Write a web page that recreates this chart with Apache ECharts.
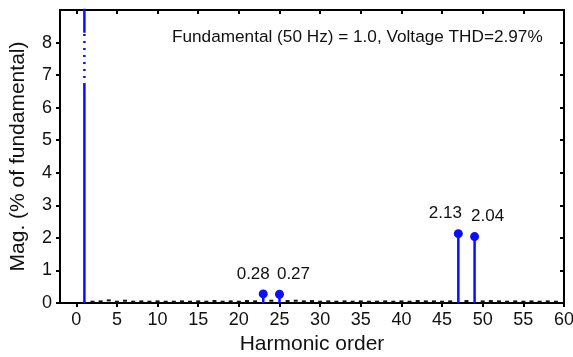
<!DOCTYPE html>
<html>
<head>
<meta charset="utf-8">
<script src="https://cdn.jsdelivr.net/npm/echarts@6/dist/echarts.min.js"></script>
<style>html,body{margin:0;padding:0;background:#fff}#c{width:573px;height:357px}</style>
</head>
<body>
<div id="c"></div>
<script>
// ---- data ----
var xTicks = [0, 5, 10, 15, 20, 25, 30, 35, 40, 45, 50, 55, 60];
var yTicks = [0, 1, 2, 3, 4, 5, 6, 7, 8];
var fundamentalOrder = 1;
var fundamentalValue = 100;      // % of fundamental
var breakLow = 6.7;              // axis-break segment (dotted)
var breakHigh = 8.3;
var mainOrders = [23, 25, 47, 49];
var mainValues = [0.28, 0.27, 2.13, 2.04];
var minorOrders = [2,3,4,5,6,7,8,9,10,11,12,13,14,15,16,17,18,19,20,21,22,24,26,27,28,29,30,31,32,33,34,35,36,37,38,39,40,41,42,43,44,45,46,48,50,51,52,53,54,55,56,57,58,59];
var minorValues = [0.04,0.05,0.08,0.04,0.07,0.04,0.05,0.04,0.05,0.04,0.04,0.05,0.04,0.05,0.04,0.06,0.04,0.05,0.04,0.06,0.05,0.07,0.06,0.07,0.05,0.06,0.04,0.05,0.04,0.05,0.04,0.05,0.04,0.04,0.05,0.04,0.05,0.04,0.06,0.05,0.05,0.04,0.05,0.06,0.05,0.06,0.05,0.04,0.05,0.04,0.05,0.04,0.05,0.04];
var annotation = 'Fundamental (50 Hz) = 1.0, Voltage THD=2.97%';

var BLUE = '#0c0cff';
var FONT = '"Liberation Sans", Arial, sans-serif';
var chart = echarts.init(document.getElementById('c'), null, {renderer: 'canvas'});

var mainData = mainOrders.map(function (o, i) { return [o, mainValues[i]]; });
var minorData = minorOrders.map(function (o, i) { return [o, minorValues[i]]; });
var labelOffsets = [[-10, 0], [14, 0], [-13, 0], [13, 0]];

function xAxisBase(extra) {
  var a = {
    type: 'value', min: -2, max: 60, gridIndex: 0,
    splitLine: {show: false},
    axisLine: {show: true, onZero: false, lineStyle: {color: '#000', width: 2}},
    axisTick: {show: true, length: 4, customValues: xTicks, lineStyle: {color: '#000', width: 2}},
    axisLabel: {show: false}
  };
  for (var k in extra) a[k] = extra[k];
  return a;
}
function yAxisBase(extra) {
  var a = {
    type: 'value', min: 0, max: 9, gridIndex: 0,
    splitLine: {show: false},
    axisLine: {show: true, onZero: false, lineStyle: {color: '#000', width: 2}},
    axisTick: {show: true, length: 4, customValues: yTicks, lineStyle: {color: '#000', width: 2}},
    axisLabel: {show: false}
  };
  for (var k in extra) a[k] = extra[k];
  return a;
}

var option = {
  backgroundColor: '#fff',
  animation: false,
  grid: {left: 60, right: 9, top: 10, bottom: 54, show: true, borderColor: '#000', borderWidth: 2,
         containLabel: false, outerBoundsMode: 'none'},
  xAxis: [
    xAxisBase({
      name: 'Harmonic order', nameLocation: 'middle', nameGap: 30,
      nameTextStyle: {fontFamily: FONT, fontSize: 21, color: '#111'},
      axisLabel: {show: true, customValues: xTicks, margin: 8, fontFamily: FONT, fontSize: 18, color: '#111'}
    }),
    xAxisBase({axisTick: {show: true, inside: true, length: 4, customValues: xTicks, lineStyle: {color: '#000', width: 2}}})
  ],
  yAxis: [
    yAxisBase({
      name: 'Mag. (% of fundamental)', nameLocation: 'middle', nameGap: 31,
      nameTextStyle: {fontFamily: FONT, fontSize: 21, color: '#111'},
      axisLabel: {show: true, customValues: yTicks, margin: 8, fontFamily: FONT, fontSize: 18, color: '#111'}
    }),
    yAxisBase({axisTick: {show: true, inside: true, length: 4, customValues: yTicks, lineStyle: {color: '#000', width: 2}}})
  ],
  graphic: [{
    type: 'text', left: 172, top: 29,
    style: {text: annotation, font: '17.2px ' + FONT, fill: '#111'}
  }],
  series: [
    {
      type: 'scatter', xAxisIndex: 0, yAxisIndex: 0, data: minorData,
      symbol: 'rect', symbolSize: [4, 2], itemStyle: {color: '#111', opacity: 1}, z: 3
    },
    {
      type: 'line', xAxisIndex: 0, yAxisIndex: 0, symbol: 'none', clip: true,
      data: [[fundamentalOrder, 0], [fundamentalOrder, breakLow]],
      lineStyle: {color: BLUE, width: 2.5}, z: 4
    },
    {
      type: 'line', xAxisIndex: 0, yAxisIndex: 0, symbol: 'none', clip: true,
      data: [[fundamentalOrder, breakLow], [fundamentalOrder, breakHigh]],
      lineStyle: {color: BLUE, width: 2.5, type: [2, 5]}, z: 4
    },
    {
      type: 'line', xAxisIndex: 0, yAxisIndex: 0, symbol: 'none', clip: true,
      data: [[fundamentalOrder, breakHigh], [fundamentalOrder, fundamentalValue]],
      lineStyle: {color: BLUE, width: 2.5}, z: 4
    },
    {
      type: 'custom', xAxisIndex: 0, yAxisIndex: 0, data: mainData, z: 4,
      renderItem: function (params, api) {
        var p0 = api.coord([api.value(0), 0]);
        var p1 = api.coord([api.value(0), api.value(1)]);
        return {type: 'line', shape: {x1: p0[0], y1: p0[1], x2: p1[0], y2: p1[1]},
                style: {stroke: BLUE, lineWidth: 2.5}};
      }
    },
    {
      type: 'scatter', xAxisIndex: 0, yAxisIndex: 0, symbolSize: 9, z: 5,
      itemStyle: {color: BLUE, opacity: 1},
      data: mainData.map(function (d, i) {
        return {value: d, label: {show: true, position: 'top', distance: 7, offset: labelOffsets[i],
          formatter: mainValues[i].toFixed(2), fontFamily: FONT, fontSize: 17, color: '#111', opacity: 1}};
      })
    }
  ]
};
chart.setOption(option);
</script>
</body>
</html>
